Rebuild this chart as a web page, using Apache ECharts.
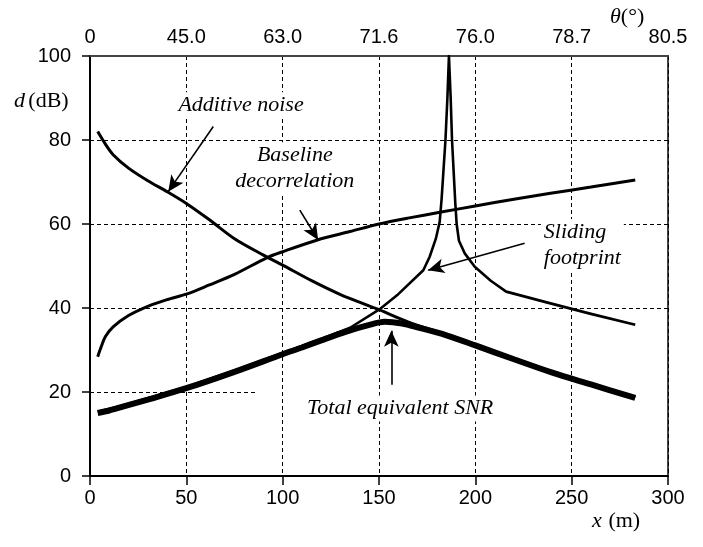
<!DOCTYPE html>
<html><head><meta charset="utf-8">
<script src="https://cdn.jsdelivr.net/npm/echarts@6/dist/echarts.min.js"></script>
<style>html,body{margin:0;padding:0;background:#fff}#c{width:703px;height:547px}</style>
</head><body><div id="c"></div>
<script>
// ---- data ----
const xTicks = [0, 50, 100, 150, 200, 250, 300];
const thetaLabels = ['0', '45.0', '63.0', '71.6', '76.0', '78.7', '80.5'];
const yTicks = [0, 20, 40, 60, 80, 100];

const addX = [4, 8, 12, 20, 30, 40, 50, 62, 75, 90, 100, 115, 130, 150, 165, 180, 200, 220, 240, 260, 283];
const addY = [82, 79, 76.5, 73.3, 70.3, 67.7, 64.9, 61, 56.5, 52.6, 50.2, 46.5, 43.2, 39.6, 36.7, 34.4, 31.3, 28, 24.8, 21.9, 18.7];

const baseX = [4, 6, 8, 12, 20, 30, 40, 50, 62, 75, 92, 100, 118, 135, 150, 165, 183, 200, 220, 239, 260, 283];
const baseY = [28.4, 31, 33.2, 35.5, 38.2, 40.4, 42, 43.3, 45.5, 48, 52, 53.4, 56.2, 58.2, 60, 61.4, 62.9, 64.3, 65.9, 67.3, 68.8, 70.5];

const slideX = [4, 17, 30, 50, 75, 100, 120, 135, 150, 160, 173, 176.3, 179.5, 181.5, 182.5, 183.5, 184.5, 185.5, 186.3, 187.2, 187.9, 188.8, 189.6, 190.3, 191.5, 194.5, 199.7, 208, 216, 239, 260, 283];
const slideY = [15.3, 16.8, 18.5, 21.2, 25.1, 29.3, 32.6, 35.3, 39.6, 43.3, 49, 52.2, 56.5, 60.5, 66, 73, 80, 90, 100, 90, 80, 72, 65, 60, 56, 53, 49.8, 46.5, 43.9, 41.1, 38.6, 36];

const totX = [4, 10, 17, 30, 50, 75, 100, 110, 120, 133, 145, 153, 162, 170, 185, 200, 220, 240, 260, 283];
const totY = [15, 15.6, 16.5, 18.2, 20.9, 24.8, 29, 30.6, 32.3, 34.4, 36.0, 36.7, 36.3, 35.4, 33.5, 31.1, 27.8, 24.6, 21.8, 18.6];

const pairs = (xs, ys) => xs.map((x, i) => [x, ys[i]]);

const serif = "'Liberation Serif','Times New Roman',serif";
const sans = "'Liberation Sans',Arial,sans-serif";

const chart = echarts.init(document.getElementById('c'), null, {renderer: 'canvas'});

const grid = {left: 90, right: 35, top: 56, bottom: 71, show: true, borderColor: '#444', borderWidth: 2, backgroundColor: 'transparent'};

const gridLine = {color: '#000', width: 1, type: [4, 3]};
const arrowLine = {color: '#000', width: 1.6, type: 'solid'};

function textLabel(x, y, text, align) {
  return {
    coord: [x, y], value: text,
    label: {
      show: true, position: 'inside', formatter: text, color: '#000',
      fontFamily: serif, fontStyle: 'italic', fontSize: 22, lineHeight: 26,
      align: align || 'center', backgroundColor: '#fff', padding: [0, 3]
    }
  };
}

const option = {
  animation: false,
  backgroundColor: '#fff',
  grid: grid,
  xAxis: [{
    type: 'value', min: 0, max: 300, interval: 50, position: 'bottom',
    axisLine: {show: true, lineStyle: {color: '#000', width: 2}},
    axisTick: {show: true, inside: false, length: 9, lineStyle: {color: '#000', width: 1.5}},
    axisLabel: {color: '#000', fontFamily: sans, fontSize: 20, margin: 12},
    splitLine: {show: true, lineStyle: gridLine}
  }, {
    type: 'value', min: 0, max: 300, interval: 50, position: 'top',
    axisLine: {show: true, lineStyle: {color: '#444', width: 2}},
    axisTick: {show: false},
    axisLabel: {color: '#000', fontFamily: sans, fontSize: 20, margin: 9,
      formatter: v => thetaLabels[xTicks.indexOf(v)]},
    splitLine: {show: false}
  }],
  yAxis: [{
    type: 'value', min: 0, max: 100, interval: 20,
    axisLine: {show: true, lineStyle: {color: '#000', width: 2}},
    axisTick: {show: true, length: 8, lineStyle: {color: '#000', width: 1.5}},
    axisLabel: {color: '#000', fontFamily: sans, fontSize: 20, margin: 19},
    splitLine: {show: false}
  }],
  graphic: [
    {type: 'text', left: 14, top: 90, style: {
      rich: {i: {fontFamily: serif, fontStyle: 'italic', fontSize: 22, fill: '#000'},
             r: {fontFamily: serif, fontSize: 22, fill: '#000'}},
      text: '{i|d} {r|(dB)}'}},
    {type: 'text', left: 592, top: 510, style: {
      rich: {i: {fontFamily: serif, fontStyle: 'italic', fontSize: 22, fill: '#000'},
             r: {fontFamily: serif, fontSize: 22, fill: '#000'}},
      text: '{i|x}  {r|(m)}'}},
    {type: 'text', left: 610, top: 6, style: {
      rich: {i: {fontFamily: serif, fontStyle: 'italic', fontSize: 22, fill: '#000'},
             r: {fontFamily: serif, fontSize: 22, fill: '#000'}},
      text: '{i|θ}{r|(°)}'}}
  ],
  series: [
    {
      name: 'grid', type: 'line', data: [], silent: true,
      markLine: {
        silent: true, symbol: ['none', 'none'], label: {show: false},
        lineStyle: gridLine,
        data: [
          {yAxis: 40}, {yAxis: 60}, {yAxis: 80},
          [{coord: [0, 20]}, {coord: [86, 20]}]
        ]
      }
    },
    {name: 'Baseline decorrelation', type: 'line', data: pairs(baseX, baseY), showSymbol: false, smooth: 0.3,
      lineStyle: {color: '#000', width: 3}, z: 3},
    {name: 'Additive noise', type: 'line', data: pairs(addX, addY), showSymbol: false, smooth: 0.3,
      lineStyle: {color: '#000', width: 3}, z: 3},
    {name: 'Sliding footprint', type: 'line', data: pairs(slideX, slideY), showSymbol: false, smooth: false,
      lineStyle: {color: '#000', width: 2.6, join: 'round'}, z: 3},
    {name: 'Total equivalent SNR', type: 'line', data: pairs(totX, totY), showSymbol: false, smooth: 0.3,
      lineStyle: {color: '#000', width: 6}, z: 4},
    {
      name: 'annotations', type: 'line', data: [], silent: true, z: 6,
      markLine: {
        silent: true, symbol: ['none', 'arrow'], symbolSize: [11, 16], label: {show: false},
        lineStyle: arrowLine,
        data: [
          [{coord: [64, 83.2]}, {coord: [40.6, 67.7]}],
          [{coord: [108.9, 63.3]}, {coord: [118.4, 56.2]}],
          [{coord: [225.6, 55.4]}, {coord: [175.5, 49.0]}],
          [{coord: [156.4, 21.7]}, {coord: [156.4, 34.6]}]
        ]
      },
      markPoint: {
        silent: true, symbol: 'rect', symbolSize: 1, itemStyle: {color: 'rgba(0,0,0,0)'},
        data: [
          textLabel(78.4, 88.3, 'Additive noise'),
          textLabel(106.3, 73.3, 'Baseline\ndecorrelation'),
          textLabel(234, 55, 'Sliding\nfootprint', 'left'),
          textLabel(161, 16.1, 'Total equivalent SNR')
        ]
      }
    }
  ]
};
chart.setOption(option);
</script></body></html>
